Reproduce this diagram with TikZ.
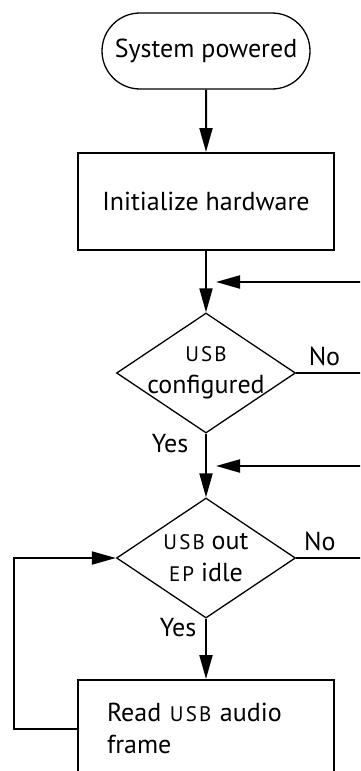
\documentclass[tikz,border=0pt]{standalone}
\usepackage{fontspec}
\setmainfont{PT Sans}
\usetikzlibrary{arrows.meta,shapes.geometric,shapes.misc,positioning}

\newcommand{\caps}[1]{{\fontsize{10.5pt}{12pt}\selectfont\addfontfeature{LetterSpace=10}#1}}

\begin{document}
\begin{tikzpicture}[x=0.5pt,y=-0.5pt,->,>={Triangle[length=12pt,width=6.5pt]},line width=1pt,
                    font=\fontsize{13pt}{16pt}\selectfont,
                    term/.style={rounded rectangle,draw,line width=0.65pt,minimum width=104pt,minimum height=38pt,inner sep=0pt},
                    proc/.style={rectangle,draw,line width=1pt,minimum width=128pt,minimum height=48.5pt,inner sep=0pt},
                    test/.style={diamond,aspect=1.5,draw,line width=0.65pt,minimum width=89.5pt,minimum height=60pt,inner sep=-2pt,align=center}]

  \useasboundingbox (0,0) rectangle (360,771);
  \clip (0,0) rectangle (360,771);

  \node[term] (1) at (206,51) {System powered};
  \node[proc] (2) at (206,201.5) {Initialize hardware};
  \node[test] (3) at (206,373) {\caps{USB}\\configured};
  \node[test] (4) at (206,558) {\caps{USB} out\\\caps{EP} idle};
  \node[proc, text width=99pt, align=left] (5) at (206,728.5) {Read \caps{USB} audio\\frame};

  % loose ends at the right border and the loop corner
  \coordinate (A) at (362,282);
  \coordinate (B) at (216,282);
  \coordinate (C) at (362,466);
  \coordinate (D) at (216,466);
  \coordinate (E) at (14,728.5);
  \coordinate (F) at (362,373);
  \coordinate (G) at (362,558);

  \draw (1) -- (2);
  \draw (2) -- (3);
  \draw (A) -- (B);
  \draw (3) -- node[pos=0.15,left=5pt] {Yes} (4);
  \draw (C) -- (D);
  \draw[-] (3.east) -- node[pos=0.43,above] {No} (F);
  \draw[-] (4.east) -- node[pos=0.36,above] {No} (G);
  \draw (4) -- node[pos=0.14,left=1pt] {Yes} (5);
  \draw (5.west) -- (E) |- (4.west);
\end{tikzpicture}
\end{document}
